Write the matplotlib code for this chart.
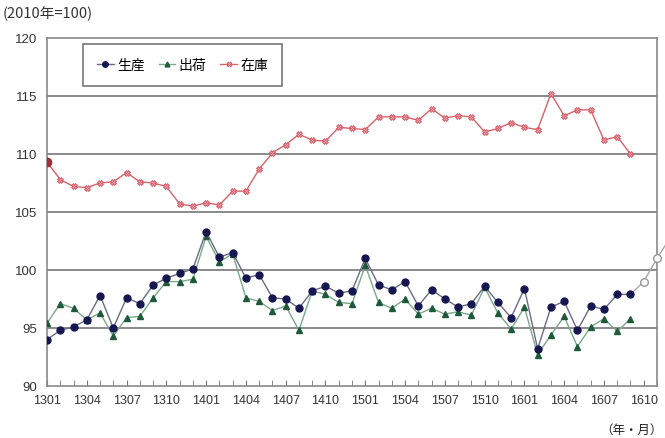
import numpy as np
import matplotlib.pyplot as plt

plt.rcParams['font.family'] = ['Liberation Sans', 'Noto Sans CJK JP', 'DejaVu Sans']

# 2013/01 .. 2016/09 monthly indices (2010 = 100)
months = [f"{y}{m:02d}" for y in (13, 14, 15, 16) for m in range(1, 13)][:45]

production = [94.0, 94.8, 95.1, 95.7, 97.8, 95.0, 97.6, 97.1, 98.7, 99.3, 99.7, 100.1,
              103.3, 101.1, 101.5, 99.3, 99.6, 97.6, 97.5, 96.7, 98.2, 98.6, 98.0, 98.2,
              101.0, 98.7, 98.3, 99.0, 96.9, 98.3, 97.5, 96.8, 97.1, 98.6, 97.2, 95.9,
              98.4, 93.2, 96.8, 97.3, 94.8, 96.9, 96.6, 97.9, 97.9]

shipments = [95.4, 97.1, 96.7, 95.7, 96.3, 94.3, 95.9, 96.0, 97.6, 99.0, 99.0, 99.2,
             102.9, 100.7, 101.4, 97.6, 97.3, 96.5, 96.9, 94.8, 98.2, 97.9, 97.2, 97.1,
             100.4, 97.2, 96.7, 97.5, 96.2, 96.7, 96.2, 96.4, 96.1, 98.5, 96.3, 94.9,
             96.8, 92.7, 94.4, 96.0, 93.4, 95.1, 95.8, 94.7, 95.8]

inventory = [109.3, 107.8, 107.2, 107.1, 107.5, 107.6, 108.4, 107.6, 107.5, 107.2, 105.7, 105.5,
             105.8, 105.6, 106.8, 106.8, 108.7, 110.1, 110.8, 111.7, 111.2, 111.1, 112.3, 112.2,
             112.1, 113.2, 113.2, 113.2, 112.9, 113.9, 113.1, 113.3, 113.2, 111.9, 112.2, 112.7,
             112.3, 112.1, 115.2, 113.3, 113.8, 113.8, 111.2, 111.5, 110.0]

# production forecast: 1609 actual, then 1610, 1611, 1612
forecast_idx = [44, 45, 46, 47]
forecast = [97.9, 99.0, 101.0, 102.8]

tick_labels = ["1301", "1304", "1307", "1310", "1401", "1404", "1407", "1410",
               "1501", "1504", "1507", "1510", "1601", "1604", "1607", "1610"]

x = np.arange(len(months))

fig = plt.figure(figsize=(6.65, 4.39), dpi=100)
ax = fig.add_axes([47 / 665, 1 - 387 / 439, 610 / 665, 348 / 439])

for yv in range(95, 120, 5):
    ax.axhline(yv, color='#8a8a8a', lw=1.4, zorder=1)

ax.plot(x, inventory, color='#d9626a', lw=1.0, marker='X', ms=4.2,
        mfc='#f2a0a8', mec='#d05560', mew=0.6, label='在庫', zorder=3)
ax.plot(x[:1], inventory[:1], 'o', color='#a0303a', ms=6, zorder=4)

ax.plot(forecast_idx, forecast, color='#a8a8a8', lw=1.0, marker='o', ms=5.5,
        mfc='white', mec='#999999', mew=1.0, zorder=3, clip_on=False, markevery=[1, 2])

ax.plot(x, shipments, color='#7aa88a', lw=1.0, marker='^', ms=4.3,
        mfc='#1e5a3a', mec='#1e5a3a', label='出荷', zorder=4)
ax.plot(x, production, color='#6a6a88', lw=1.0, marker='o', ms=5.0,
        mfc='#161650', mec='#161650', label='生産', zorder=5)

ax.set_xlim(0, 46)
ax.set_ylim(90, 120)
ax.set_yticks(range(90, 121, 5))
ax.set_xticks(np.arange(0, 46, 3))
ax.set_xticklabels(tick_labels)
ax.set_xticks(np.arange(0, 47), minor=True)
ax.tick_params(axis='x', which='both', direction='in', length=4, color='#777777',
               labelsize=9, labelcolor='#333333', pad=6)
ax.tick_params(axis='y', length=0, labelsize=9.5, labelcolor='#333333', pad=7)

for s in ax.spines.values():
    s.set_color('#8a8a8a')
    s.set_linewidth(1.2)

handles, labels = ax.get_legend_handles_labels()
order = [labels.index(n) for n in ('生産', '出荷', '在庫')]
leg = ax.legend([handles[i] for i in order], [labels[i] for i in order],
                loc='upper left', bbox_to_anchor=(0.059, 0.983), borderaxespad=0,
                ncol=3, handlelength=1.2, handletextpad=0.25, columnspacing=1.0,
                borderpad=1.0, fancybox=False, edgecolor='#555555', markerscale=0.8,
                prop={'family': ['Noto Sans CJK JP'], 'size': 10})
leg.get_frame().set_linewidth(1.2)

fig.text(3 / 665, 1 - 14 / 439, '(2010年=100)', fontsize=10.5, color='#333333',
         family=['Noto Sans CJK JP'], va='center', ha='left')
fig.text(663 / 665, 1 - 430 / 439, '（年・月）', fontsize=9, color='#222222',
         family=['Noto Sans CJK JP'], va='center', ha='right')

fig.savefig('out.png', dpi=100)
